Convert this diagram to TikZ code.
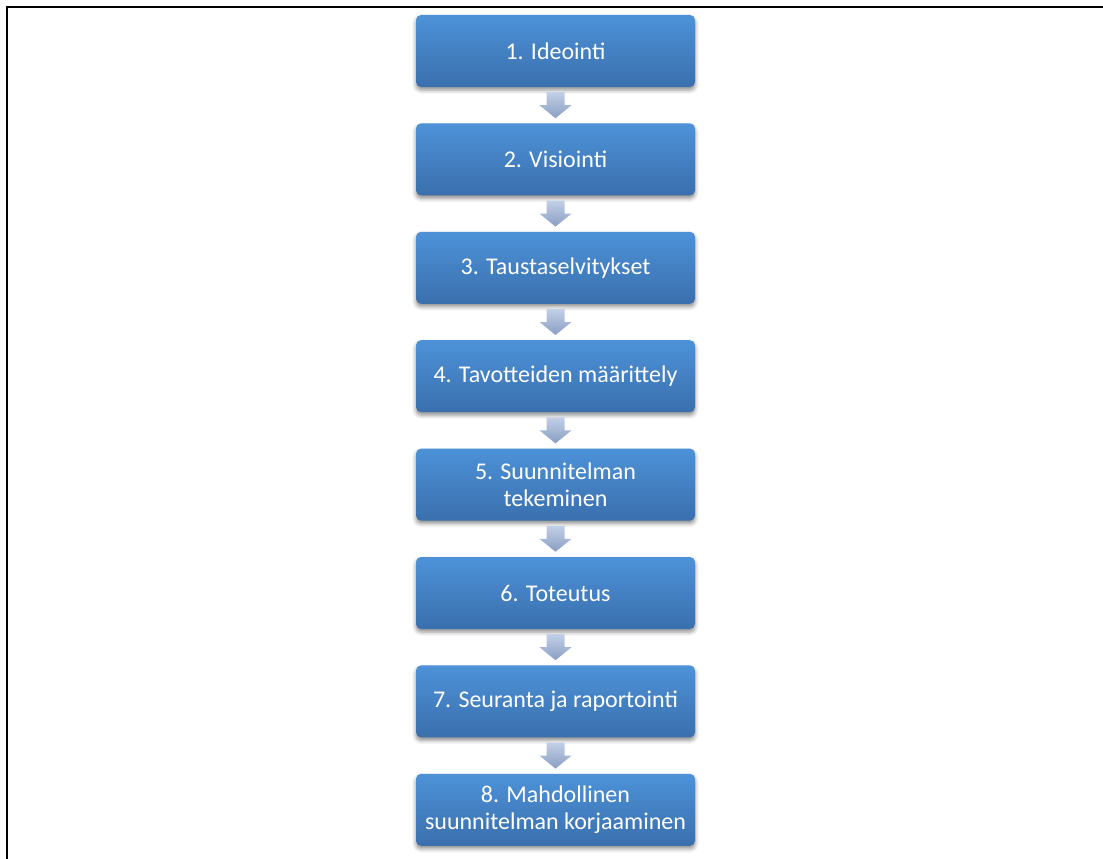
\documentclass[tikz,border=0pt]{standalone}
\usepackage{fontspec}
\setmainfont{Carlito}
\usetikzlibrary{calc,shadows.blur}
\definecolor{boxtop}{RGB}{77,146,216}
\definecolor{boxbot}{RGB}{58,111,173}
\definecolor{arrtop}{RGB}{194,208,231}
\definecolor{arrbot}{RGB}{138,158,196}
\tikzset{
  stepbox/.style={rectangle, rounded corners=5pt, minimum width=279pt, minimum height=72pt,
    inner sep=0pt, top color=boxtop, bottom color=boxbot, draw=none,
    text=white, font=\fontsize{24}{26.5}\selectfont, align=center,
    blur shadow={shadow xshift=0pt, shadow yshift=-3pt, shadow blur radius=4pt, shadow opacity=45}},
  flowarrow/.style={top color=arrtop, bottom color=arrbot, draw=none},
  frameline/.style={line width=2pt, black}
}
\newcommand{\flowarr}[2]{%
  \path[flowarrow] ($(#1.south)+(-9,5)$) -- ($(#1.south)+(9,5)$) -- ($(#1.south)+(9,18)$)
    -- ($(#1.south)+(16,18)$) -- ($(#2.north)+(0,-5)$) -- ($(#1.south)+(-16,18)$)
    -- ($(#1.south)+(-9,18)$) -- cycle;}
\begin{document}
\begin{tikzpicture}[x=1pt,y=-1pt]
\useasboundingbox (0,0) rectangle (1103,859);
\coordinate (fa) at (7,859);
\coordinate (fb) at (7,7.5);
\coordinate (fc) at (1103,7.5);
\draw[frameline] (fa) -- (fb) -- (fc);
\node[stepbox] (n1) at (555.5,51.0) {1. Ideointi};
\node[stepbox] (n2) at (555.5,159.4) {2. Visiointi};
\node[stepbox] (n3) at (555.5,267.8) {3. Taustaselvitykset};
\node[stepbox] (n4) at (555.5,376.2) {4. Tavotteiden määrittely};
\node[stepbox] (n5) at (555.5,484.6) {5. Suunnitelman\\tekeminen};
\node[stepbox] (n6) at (555.5,593.0) {6. Toteutus};
\node[stepbox] (n7) at (555.5,701.4) {7. Seuranta ja raportointi};
\node[stepbox] (n8) at (555.5,809.8) {8. Mahdollinen\\suunnitelman korjaaminen};
\flowarr{n1}{n2}
\flowarr{n2}{n3}
\flowarr{n3}{n4}
\flowarr{n4}{n5}
\flowarr{n5}{n6}
\flowarr{n6}{n7}
\flowarr{n7}{n8}
\end{tikzpicture}
\end{document}
